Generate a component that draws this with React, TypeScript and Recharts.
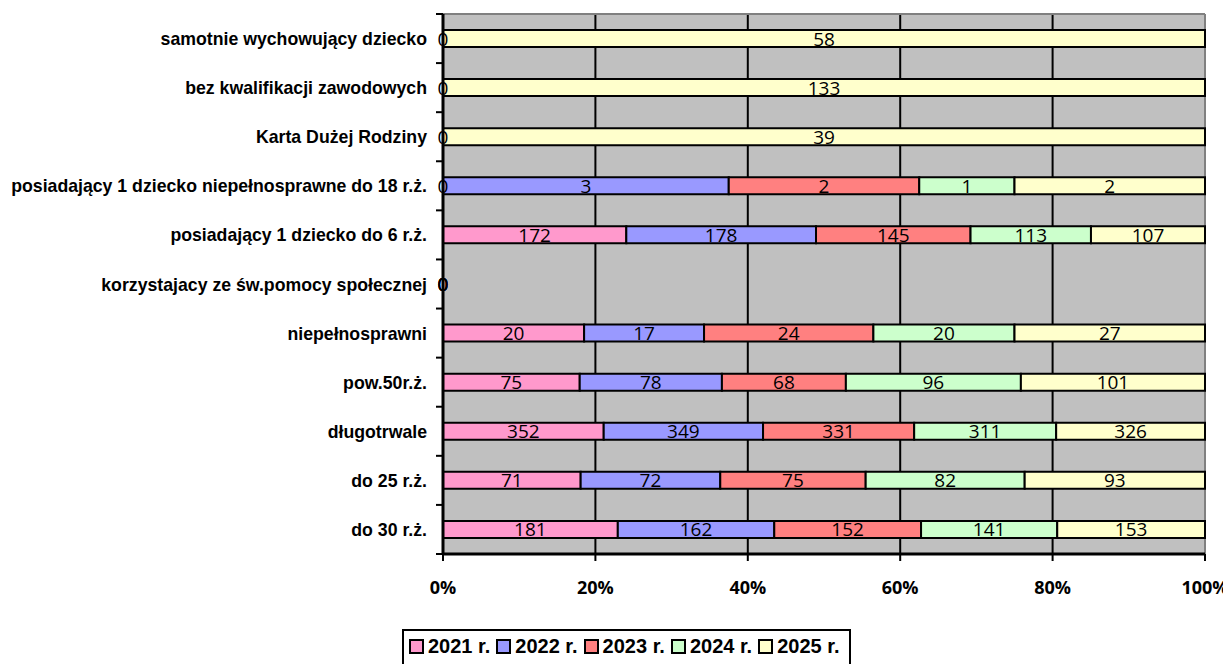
import React from "react";
import { Bar, BarChart, CartesianGrid, LabelList, XAxis, YAxis } from "recharts";

const categories = [
  "samotnie wychowujący dziecko",
  "bez kwalifikacji zawodowych",
  "Karta Dużej Rodziny",
  "posiadający 1 dziecko niepełnosprawne do 18 r.ż.",
  "posiadający 1 dziecko do 6 r.ż.",
  "korzystajacy ze św.pomocy społecznej",
  "niepełnosprawni",
  "pow.50r.ż.",
  "długotrwale",
  "do 25 r.ż.",
  "do 30 r.ż.",
];
const y2021 = [0, 0, 0, 0, 172, 0, 20, 75, 352, 71, 181];
const y2022 = [null, null, null, 3, 178, 0, 17, 78, 349, 72, 162];
const y2023 = [null, null, null, 2, 145, 0, 24, 68, 331, 75, 152];
const y2024 = [null, null, null, 1, 113, 0, 20, 96, 311, 82, 141];
const y2025 = [58, 133, 39, 2, 107, 0, 27, 101, 326, 93, 153];
const percentTicks = [0, 0.2, 0.4, 0.6, 0.8, 1];

const series = [
  { key: "y2021", name: "2021 r.", color: "#FF99CC", values: y2021 },
  { key: "y2022", name: "2022 r.", color: "#9999FF", values: y2022 },
  { key: "y2023", name: "2023 r.", color: "#FF8080", values: y2023 },
  { key: "y2024", name: "2024 r.", color: "#CCFFCC", values: y2024 },
  { key: "y2025", name: "2025 r.", color: "#FFFFCC", values: y2025 },
];

const data = categories.map((name, i) => ({
  name,
  y2021: y2021[i],
  y2022: y2022[i],
  y2023: y2023[i],
  y2024: y2024[i],
  y2025: y2025[i],
}));

const W = 1223;
const H = 656;
const TOP = 6;
const PLOT_H = 540;
const BAND = PLOT_H / categories.length;
const TICK_MARGIN = 16;
const LABEL_FONT = "'Open Sans', sans-serif";

function CategoryTick(props: any) {
  const { x, y, payload, index } = props;
  const axisX = x + TICK_MARGIN;
  // zero-width segments still show their "0" label at the axis
  const zeros = series.filter((s) => s.values[index] === 0);
  return (
    <g>
      {index === 0 && (
        <line x1={axisX - 7} x2={axisX} y1={y - BAND / 2} y2={y - BAND / 2} stroke="#000" strokeWidth={2} />
      )}
      <line x1={axisX - 7} x2={axisX} y1={y + BAND / 2} y2={y + BAND / 2} stroke="#000" strokeWidth={2} />
      <text
        x={x}
        y={y + 6.5}
        textAnchor="end"
        fontFamily="'Liberation Sans', Arial, sans-serif"
        fontWeight="bold"
        fontSize={17.7}
        fill="#000"
      >
        {payload.value}
      </text>
      {zeros.map((s) => (
        <text key={s.key} x={axisX} y={y + 7} textAnchor="middle" fontFamily={LABEL_FONT} fontSize={19} fill="#000">
          0
        </text>
      ))}
    </g>
  );
}

function PercentTick(props: any) {
  const { x, y, payload } = props;
  return (
    <text x={x} y={y + 31} textAnchor="middle" fontFamily={LABEL_FONT} fontWeight="bold" fontSize={18} fill="#000">
      {Math.round(payload.value * 100) + "%"}
    </text>
  );
}

function SegmentLabel(props: any) {
  const { value } = props;
  if (value === null || value === undefined || value === 0) return null;
  const box = props.viewBox ?? props;
  const cx = box.x + box.width / 2;
  const cy = box.y + box.height / 2;
  return (
    <text x={cx} y={cy + 7} textAnchor="middle" fontFamily={LABEL_FONT} fontSize={19} fill="#000">
      {value}
    </text>
  );
}

export default function App() {
  return (
    <div style={{ position: "relative", width: W, height: H }}>
      <BarChart
        width={W}
        height={H}
        data={data}
        layout="vertical"
        stackOffset="expand"
        margin={{ top: TOP, right: 26, bottom: 0, left: 0 }}
        style={{ overflow: "visible" }}
      >
        <CartesianGrid fill="#C0C0C0" horizontal={false} stroke="#000" strokeWidth={2} />
        <CartesianGrid
          fill="none"
          stroke="#808080"
          strokeWidth={2}
          horizontalCoordinatesGenerator={(p: any) => [p?.offset?.top ?? TOP]}
          verticalCoordinatesGenerator={(p: any) => [p?.offset ? p.offset.left + p.offset.width : 1197]}
        />
        <XAxis
          type="number"
          domain={[0, 1]}
          ticks={percentTicks}
          height={H - TOP - PLOT_H}
          axisLine={{ stroke: "#000", strokeWidth: 3 }}
          tickLine={{ stroke: "#000", strokeWidth: 2 }}
          tickSize={7}
          tick={<PercentTick />}
        />
        <YAxis
          type="category"
          dataKey="name"
          width={435}
          interval={0}
          axisLine={{ stroke: "#000", strokeWidth: 3 }}
          tickLine={false}
          tickSize={0}
          tickMargin={TICK_MARGIN}
          tick={<CategoryTick />}
        />
        {series.map((s) => (
          <Bar
            key={s.key}
            dataKey={s.key}
            name={s.name}
            stackId="a"
            fill={s.color}
            stroke="#000"
            strokeWidth={2}
            barSize={17}
            isAnimationActive={false}
          >
            <LabelList dataKey={s.key} content={(p: any) => <SegmentLabel {...p} />} />
          </Bar>
        ))}
      </BarChart>
      <div
        style={{
          position: "absolute",
          left: 394,
          top: 621,
          width: 449,
          height: 44,
          border: "2px solid #000",
          boxSizing: "border-box",
          background: "#fff",
          display: "flex",
          alignItems: "flex-start",
          paddingLeft: 5,
          paddingTop: 4,
          fontFamily: "'Liberation Sans', Arial, sans-serif",
          fontWeight: "bold",
          fontSize: 20,
          lineHeight: "22px",
          whiteSpace: "nowrap",
        }}
      >
        {series.map((s) => (
          <div key={s.key} style={{ display: "flex", alignItems: "center", marginRight: 6, flexShrink: 0 }}>
            <span
              style={{
                display: "inline-block",
                width: 11,
                height: 11,
                background: s.color,
                border: "2px solid #000",
                marginRight: 4,
              }}
            />
            <span>{s.name}</span>
          </div>
        ))}
      </div>
    </div>
  );
}
